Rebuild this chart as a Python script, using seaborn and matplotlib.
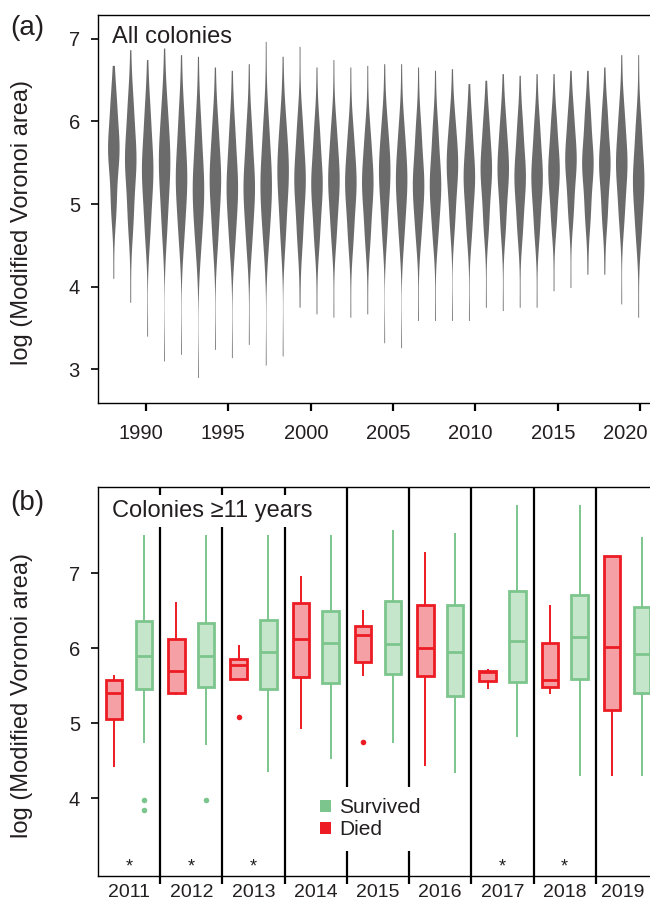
import numpy as np
import pandas as pd
import matplotlib
matplotlib.use("Agg")
import matplotlib.pyplot as plt
import matplotlib.transforms as mtransforms
import seaborn as sns
from matplotlib.patches import Patch

# ---- panel (a): all colonies, one violin per year ----
years_a = [str(y) for y in range(1988, 2020)]
tail_high = [6.68, 6.87, 6.75, 6.89, 6.81, 6.79, 6.66, 6.62, 6.70, 6.97, 6.79, 6.91, 6.66, 6.75, 6.66, 6.68,
             6.70, 6.70, 6.66, 6.62, 6.64, 6.46, 6.50, 6.58, 6.56, 6.58, 6.58, 6.62, 6.62, 6.66, 6.81, 6.81]
body_high = [6.20, 6.15, 6.05, 6.10, 6.00, 5.90, 5.90, 5.85, 5.85, 5.90, 5.95, 5.90, 5.85, 5.85, 5.80, 5.80,
             5.90, 5.85, 5.85, 5.85, 5.95, 5.90, 5.95, 5.95, 5.90, 5.90, 5.95, 6.05, 6.05, 6.05, 6.05, 5.90]
centre = [5.65, 5.53, 5.41, 5.49, 5.33, 5.21, 5.29, 5.21, 5.21, 5.25, 5.37, 5.29, 5.25, 5.29, 5.25, 5.25,
          5.37, 5.29, 5.25, 5.25, 5.45, 5.33, 5.41, 5.41, 5.33, 5.33, 5.41, 5.53, 5.49, 5.49, 5.49, 5.29]
body_low = [5.00, 4.85, 4.75, 4.80, 4.70, 4.60, 4.65, 4.60, 4.60, 4.65, 4.70, 4.65, 4.65, 4.70, 4.65, 4.65,
            4.75, 4.70, 4.70, 4.70, 4.85, 4.75, 4.80, 4.80, 4.75, 4.75, 4.85, 4.95, 4.90, 4.90, 4.90, 4.70]
tail_low = [4.10, 3.81, 3.40, 3.10, 3.18, 2.90, 3.24, 3.14, 3.30, 3.05, 3.16, 3.75, 3.67, 3.63, 3.63, 3.67,
            3.32, 3.26, 3.59, 3.59, 3.59, 3.59, 3.75, 3.71, 3.75, 3.75, 3.95, 3.99, 4.15, 4.15, 3.79, 3.63]
# how many colonies each of the five levels above stands for
level_counts = [1, 6, 12, 6, 1]
tick_years_a = ["1990", "1995", "2000", "2005", "2010", "2015", "2020"]

# ---- panel (b): colonies >= 11 years, died vs survived ----
years_b = ["2011", "2012", "2013", "2014", "2015", "2016", "2017", "2018", "2019"]
# whisker low, Q1, median, Q3, whisker high
died_low = [4.41, 5.38, 5.59, 4.92, 5.63, 4.43, 5.45, 5.39, 4.29]
died_q1 = [5.06, 5.40, 5.59, 5.61, 5.82, 5.63, 5.56, 5.48, 5.17]
died_med = [5.40, 5.70, 5.77, 6.12, 6.17, 6.00, 5.68, 5.57, 6.01]
died_q3 = [5.57, 6.12, 5.86, 6.60, 6.29, 6.57, 5.70, 6.07, 7.23]
died_high = [5.64, 6.61, 6.04, 6.96, 6.51, 7.28, 5.72, 6.58, 7.23]
died_outliers = {"2013": [5.08], "2015": [4.75]}

surv_low = [4.74, 4.71, 4.35, 4.52, 4.73, 4.33, 4.81, 4.29, 4.29]
surv_q1 = [5.46, 5.48, 5.46, 5.53, 5.66, 5.36, 5.55, 5.59, 5.40]
surv_med = [5.90, 5.90, 5.95, 6.07, 6.06, 5.95, 6.09, 6.15, 5.92]
surv_q3 = [6.36, 6.34, 6.37, 6.49, 6.63, 6.58, 6.76, 6.71, 6.55]
surv_high = [7.51, 7.51, 7.51, 7.51, 7.58, 7.53, 7.91, 7.91, 7.48]
surv_outliers = {"2011": [3.98, 3.84], "2012": [3.98]}

signif_years = ["2011", "2012", "2013", "2017", "2018"]

# ---- build long tables ----
rows = []
for i, yr in enumerate(years_a):
    levels = [tail_low[i], body_low[i], centre[i], body_high[i], tail_high[i]]
    for v in np.repeat(levels, level_counts):
        rows.append((yr, v))
df_a = pd.DataFrame(rows, columns=["year", "value"])

rows = []
for status, lo, q1, md, q3, hi, outl in [
        ("Died", died_low, died_q1, died_med, died_q3, died_high, died_outliers),
        ("Survived", surv_low, surv_q1, surv_med, surv_q3, surv_high, surv_outliers)]:
    for i, yr in enumerate(years_b):
        # each summary level repeated so the quartiles come out exactly
        vals = list(np.repeat([lo[i], q1[i], md[i], q3[i], hi[i]], 10)) + outl.get(yr, [])
        for v in vals:
            rows.append((yr, status, v))
df_b = pd.DataFrame(rows, columns=["year", "status", "value"])

# ---- styling ----
sns.set_theme(style="ticks")
plt.rcParams["font.family"] = ["Liberation Sans", "DejaVu Sans"]
txt = "#231f20"
plt.rcParams["text.color"] = txt
plt.rcParams["xtick.color"] = txt
plt.rcParams["ytick.color"] = txt
plt.rcParams["axes.labelcolor"] = txt

red, red_fill = "#ed1c24", "#f5a0a5"
green, green_fill = "#7cc58d", "#c6e6cc"

fig = plt.figure(figsize=(6.5, 9.07), dpi=100)
W, H = 650, 907
ax_a = fig.add_axes([98 / W, 1 - 403 / H, 560 / W, 388 / H])
ax_b = fig.add_axes([98 / W, 1 - 876 / H, 560 / W, 389 / H])

# panel (a)
sns.violinplot(data=df_a, x="year", y="value", order=years_a, color="#6b6b6b", saturation=1,
               inner=None, cut=0, linewidth=0, width=0.68, density_norm="width", ax=ax_a)
ax_a.set_xlim(-0.904, 32.17)
ax_a.set_ylim(2.59, 7.29)
# year ticks sit slightly off the violin centres in the original
ax_a.set_xticks([1.93, 6.78, 11.67, 16.52, 21.36, 26.27, 31.11], tick_years_a)
ax_a.set_yticks([3, 4, 5, 6, 7])
ax_a.set_xlabel("")
ax_a.set_ylabel("log (Modified Voronoi area)", fontsize=17)
ax_a.yaxis.set_label_coords(-0.116, 0.466)
ax_a.text(0.025, 0.943, "All colonies", transform=ax_a.transAxes, fontsize=17, va="center", ha="left")

# panel (b)
sns.boxplot(data=df_b, x="year", y="value", hue="status", order=years_b, hue_order=["Died", "Survived"],
            palette={"Died": red_fill, "Survived": green_fill}, linecolor=red,
            width=0.96, gap=0.45, showcaps=False, saturation=1, legend=False, ax=ax_b,
            whiskerprops={"linewidth": 1.4}, boxprops={"linewidth": 2.0}, medianprops={"linewidth": 2.0},
            flierprops={"marker": "o", "markersize": 4, "markerfacecolor": red, "markeredgecolor": "none"})

# outline colour follows the group: boxes left of the year centre are "Died", right are "Survived"
def is_survived(xs):
    xs = np.asarray(xs, dtype=float)
    if xs.size == 0:
        return False
    m = xs.mean()
    return m - round(m) > 0

for p in ax_b.patches:
    if is_survived(p.get_path().vertices[:, 0]):
        p.set_edgecolor(green)
for ln in ax_b.lines:
    if is_survived(ln.get_xdata()):
        ln.set_color(green)
        ln.set_markerfacecolor(green)
        ln.set_markeredgecolor("none")

ax_b.set_xlim(-0.5, 8.5)
ax_b.set_ylim(2.96, 8.15)
ax_b.set_yticks([4, 5, 6, 7])
ax_b.set_xlabel("")
ax_b.set_ylabel("log (Modified Voronoi area)", fontsize=17)
ax_b.yaxis.set_label_coords(-0.116, 0.463)

for k in range(len(years_b) - 1):
    ax_b.axvline(k + 0.5, color="black", linewidth=1.6, zorder=1)
ax_b.set_xticks([k + 0.5 for k in range(len(years_b) - 1)], minor=True)

for yr in signif_years:
    ax_b.text(years_b.index(yr), 3.08, "*", ha="center", va="center", fontsize=13)

ax_b.text(0.025, 0.938, "Colonies \u226511 years", transform=ax_b.transAxes, fontsize=17,
          va="center", ha="left", zorder=4,
          bbox=dict(facecolor="white", edgecolor="none", boxstyle="square,pad=0.2"))

handles = [Patch(facecolor=green, edgecolor="none", label="Survived"),
           Patch(facecolor=red, edgecolor="none", label="Died")]
leg = ax_b.legend(handles=handles, loc="center", bbox_to_anchor=(0.486, 0.147), fontsize=15,
                  frameon=True, framealpha=1, facecolor="white", edgecolor="none", fancybox=False,
                  handlelength=0.55, handleheight=0.55, handletextpad=0.35, labelspacing=0.15,
                  borderpad=0.55)
leg.set_zorder(5)

for ax in (ax_a, ax_b):
    for s in ax.spines.values():
        s.set_visible(True)
        s.set_linewidth(1.0)
        s.set_color("black")
    ax.tick_params(axis="y", length=5, width=1.2, pad=8, labelsize=14.5, color="black")
    ax.tick_params(axis="x", labelsize=14.5)
ax_a.tick_params(axis="x", length=6, width=1.6, pad=9, color="black")
ax_b.tick_params(axis="x", which="major", length=0, pad=6, labelsize=14)
ax_b.tick_params(axis="x", which="minor", length=6, width=1.6, color="black")


def nudge(lab, px):
    lab.set_transform(lab.get_transform() + mtransforms.ScaledTranslation(px / 100, 0, fig.dpi_scale_trans))


# labels in (a) sit a little left of their ticks; the last ones are pulled in to fit the page
labels_a = ax_a.get_xticklabels()
for j, lab in enumerate(labels_a):
    nudge(lab, -15 if j == len(labels_a) - 1 else -5)
nudge(ax_b.get_xticklabels()[-1], -4)

fig.text(10 / W, 1 - 28 / H, "(a)", fontsize=20, va="center", ha="left")
fig.text(10 / W, 1 - 503 / H, "(b)", fontsize=20, va="center", ha="left")

fig.savefig("out.png", dpi=100)
